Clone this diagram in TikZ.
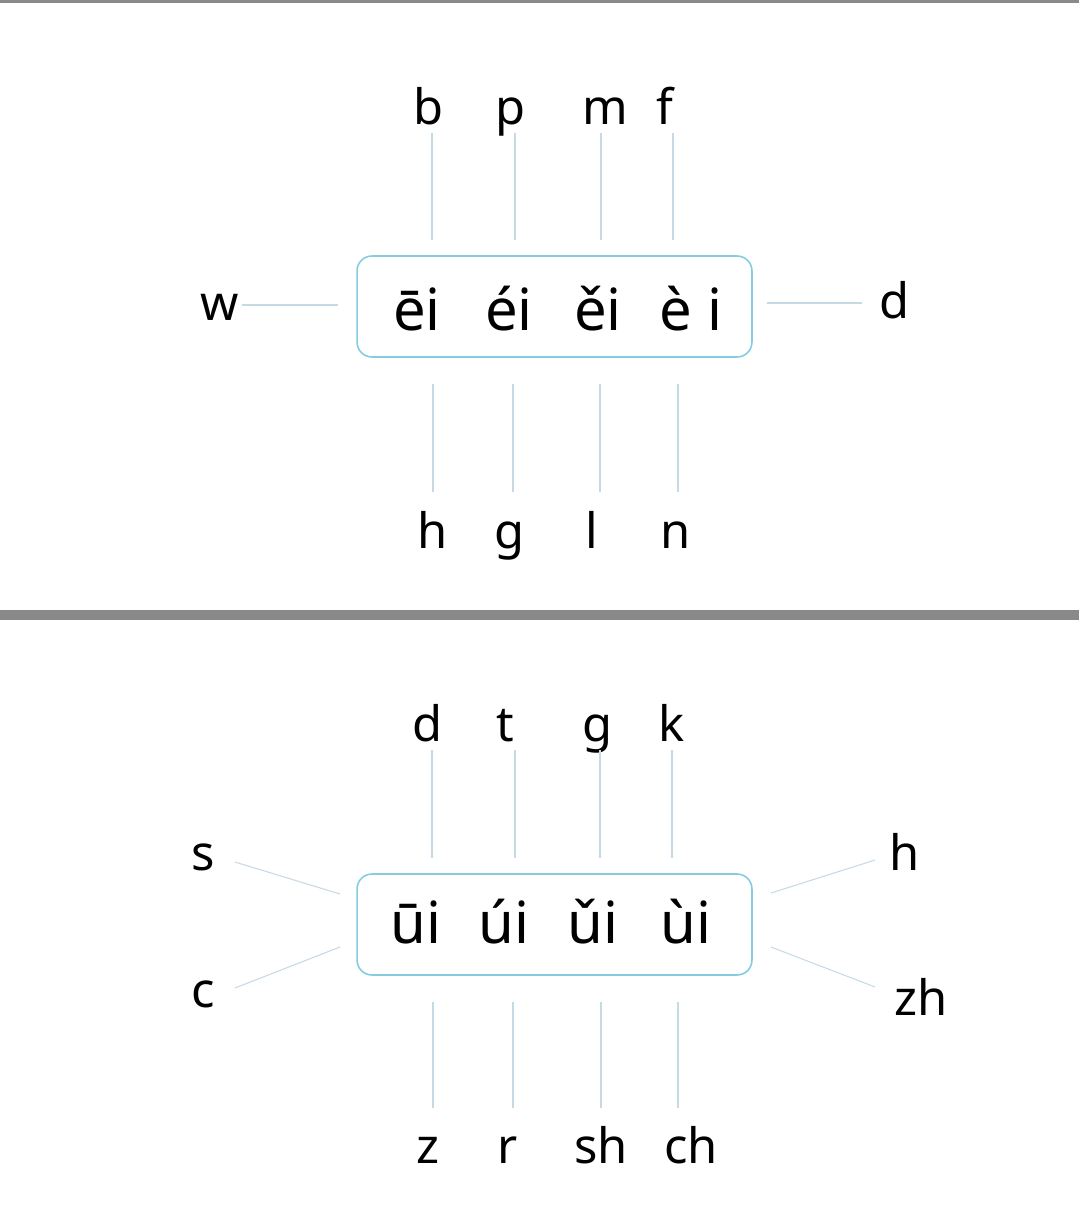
\documentclass[tikz,border=0pt]{standalone}
\usepackage{fontspec}
\setmainfont{Noto Sans}
\usetikzlibrary{positioning}
\definecolor{boxblue}{HTML}{86CCE0}
\definecolor{linkblue}{HTML}{C6DAE5}
\definecolor{rulegrey}{HTML}{898989}
\tikzset{
  initial/.style={font=\fontsize{27.8}{30}\selectfont, anchor=base, inner sep=0pt},
  final/.style={font=\fontsize{33}{36}\selectfont, anchor=base, inner sep=0pt},
  frame/.style={draw=boxblue, line width=0.9pt, rounded corners=8.5pt,
    minimum width=7.9cm, minimum height=2.02cm, inner sep=0pt},
  link/.style={draw=linkblue, line width=0.6pt},
}
\begin{document}
\begin{tikzpicture}[x=0.02cm,y=-0.02cm]
      % Page and rules
      \fill[white] (0,0) rectangle (1079,1221);
      \fill[rulegrey] (0,0) rectangle (1079,3);
      \fill[rulegrey] (0,610) rectangle (1079,620);
      % Define nodes: ei
      \node[frame] (eibox) at (554.5,306.5) {};
      \foreach \x/\t [count=\i] in {417/ēi,509/éi,598/ěi,691/è i}
        \node[final] (ei\i) at (\x,330) {\t};
      \node[initial] (w) at (220,320) {w};
      \node[initial] (d) at (895,318) {d};
      \coordinate (w1) at (242,305);
      \coordinate (w2) at (338,305);
      \coordinate (d1) at (767,303);
      \coordinate (d2) at (862,303);
      % Connect nodes: ei
      \foreach \lx/\x/\t [count=\i] in {429/432/b,511/515/p,605/601/m,665/673/f}{
        \node[initial] (eiup\i) at (\lx,124) {\t};
        \coordinate (eiupa\i) at (\x,133);
        \coordinate (eiupb\i) at (\x,240);
        \draw[link] (eiupa\i) -- (eiupb\i);
      }
      \foreach \lx/\x/\t [count=\i] in {433/433/h,510/513/g,592/600/l,676/678/n}{
        \node[initial] (eidown\i) at (\lx,548) {\t};
        \coordinate (eidowna\i) at (\x,384);
        \coordinate (eidownb\i) at (\x,492);
        \draw[link] (eidowna\i) -- (eidownb\i);
      }
      \draw[link] (w1) -- (w2);
      \draw[link] (d1) -- (d2);
      % Define nodes: ui
      \node[frame] (uibox) at (554.5,924.5) {};
      \foreach \x/\t [count=\i] in {416/ūi,504/úi,593/ǔi,686/ùi}
        \node[final] (ui\i) at (\x,943) {\t};
      \node[initial] (s) at (203,870) {s};
      \node[initial] (c) at (203,1007) {c};
      \node[initial] (h) at (905,870) {h};
      \node[initial] (zh) at (921,1015) {zh};
      \coordinate (s1) at (235,862);
      \coordinate (s2) at (340,894);
      \coordinate (c1) at (235,988);
      \coordinate (c2) at (340,947);
      \coordinate (h1) at (875,860);
      \coordinate (h2) at (771,893);
      \coordinate (zh1) at (875,987);
      \coordinate (zh2) at (771,947);
      % Connect nodes: ui
      \foreach \lx/\x/\t [count=\i] in {428/432/d,505/515/t,598/600/g,672/672/k}{
        \node[initial] (uiup\i) at (\lx,741) {\t};
        \coordinate (uiupa\i) at (\x,750);
        \coordinate (uiupb\i) at (\x,858);
        \draw[link] (uiupa\i) -- (uiupb\i);
      }
      \foreach \lx/\x/\t [count=\i] in {428/433/z,508/513/r,601/601/sh,691/678/ch}{
        \node[initial] (uidown\i) at (\lx,1163) {\t};
        \coordinate (uidowna\i) at (\x,1002);
        \coordinate (uidownb\i) at (\x,1108);
        \draw[link] (uidowna\i) -- (uidownb\i);
      }
      \draw[link] (s1) -- (s2);
      \draw[link] (c1) -- (c2);
      \draw[link] (h1) -- (h2);
      \draw[link] (zh1) -- (zh2);
\end{tikzpicture}
\end{document}
